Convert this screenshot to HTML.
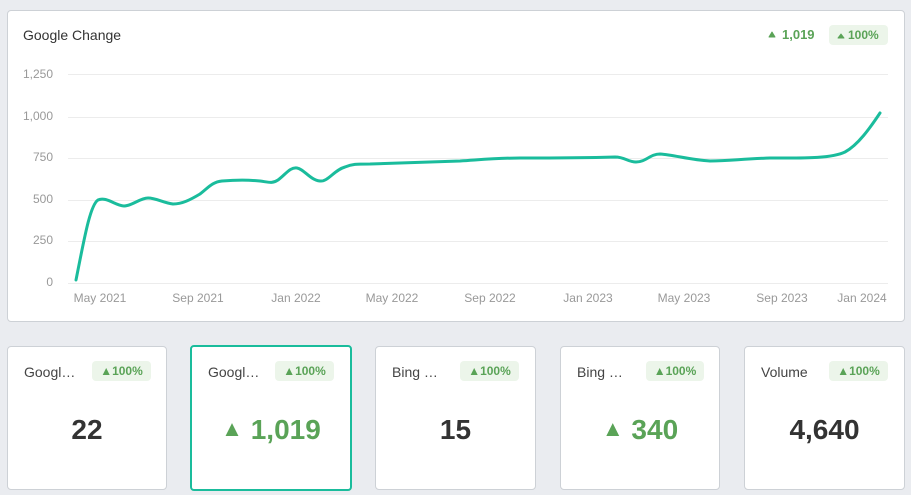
<!DOCTYPE html>
<html><head><meta charset="utf-8"><style>
body{margin:0;width:911px;height:495px;background:#eaecf0;font-family:"Liberation Sans",sans-serif;position:relative;overflow:hidden}
.card{position:absolute;background:#fff;border:1px solid #cdd1d6;border-radius:4px;box-sizing:border-box}
.t{position:absolute;font-size:14px;color:#444}
.badge{position:absolute;background:#ecf5ea;color:#5aa357;font-weight:bold;font-size:12px;border-radius:4px;height:20px;line-height:20px;text-align:center}
.big{position:absolute;left:0;right:0;text-align:center;font-size:28px;font-weight:bold;color:#333}
.g{color:#5aa357}
.ax{font-size:12px;fill:#999}
</style></head><body>
<div class="card" style="left:7px;top:10px;width:898px;height:312px"></div>
<svg style="position:absolute;left:0;top:0" width="911" height="330">
<text x="23" y="40" font-size="14" fill="#333" font-family="Liberation Sans">Google Change</text>
<path d="M769 37 L772 32 L775 37Z" fill="#5aa357" stroke="#5aa357" stroke-linejoin="round"/>
<text x="782" y="39" font-size="13" font-weight="bold" fill="#5aa357" font-family="Liberation Sans">1,019</text>
<rect x="829" y="25" width="59" height="20" rx="4" fill="#ecf5ea"/>
<path d="M838 38 L841 34 L844 38Z" fill="#5aa357" stroke="#5aa357" stroke-linejoin="round"/>
<text x="848" y="39" font-size="12" font-weight="bold" fill="#5aa357" font-family="Liberation Sans">100%</text>
<g stroke="#ececec" stroke-width="1">
<line x1="68" x2="888" y1="74.5" y2="74.5"/><line x1="68" x2="888" y1="117.5" y2="117.5"/>
<line x1="68" x2="888" y1="158.5" y2="158.5"/><line x1="68" x2="888" y1="200.5" y2="200.5"/>
<line x1="68" x2="888" y1="241.5" y2="241.5"/><line x1="68" x2="888" y1="283.5" y2="283.5"/>
</g>
<g class="ax" font-family="Liberation Sans" text-anchor="end">
<text x="53" y="78">1,250</text><text x="53" y="120">1,000</text><text x="53" y="161">750</text>
<text x="53" y="203">500</text><text x="53" y="244">250</text><text x="53" y="286">0</text>
</g>
<g class="ax" font-family="Liberation Sans" text-anchor="middle">
<text x="100" y="302">May 2021</text><text x="198" y="302">Sep 2021</text><text x="296" y="302">Jan 2022</text>
<text x="392" y="302">May 2022</text><text x="490" y="302">Sep 2022</text><text x="588" y="302">Jan 2023</text>
<text x="684" y="302">May 2023</text><text x="782" y="302">Sep 2023</text><text x="862" y="302">Jan 2024</text>
</g>
<path fill="none" stroke="#1abc9c" stroke-width="3" stroke-linecap="round" stroke-linejoin="round"
d="M76 280 C84 240,90 205,98 200 C106 196,116 206,124 206 C132 206,140 198,148 198 C156 198,164 203,173 204 C182 204,190 200,200 194 C208 188,212 182,222 181 C235 180,250 180,260 181 C268 182,272 184,278 180 C286 174,290 167,297 168 C304 169,310 180,320 181 C328 182,334 170,345 167 C352 164,356 164,370 164 C400 163,430 162,460 161 C490 159,500 158,520 158 C540 158,580 158,615 157 C625 157,628 162,636 162 C646 162,650 154,660 154 C675 155,690 160,710 161 C730 161,740 159,770 158 C800 158,830 159,845 152 C858 145,870 128,880 113"/>
</svg>

<div class="card" style="left:7px;top:346px;width:160px;height:144px">
<div class="t" style="left:16px;top:17px">Googl…</div>
<div class="badge" style="left:84px;top:14px;width:59px">▲100%</div>
<div class="big" style="top:67px">22</div></div>

<div class="card" style="left:190px;top:345px;width:162px;height:146px;border:2px solid #1abc9c">
<div class="t" style="left:16px;top:17px">Googl…</div>
<div class="badge" style="left:83px;top:14px;width:59px">▲100%</div>
<div class="big g" style="top:67px"><span style="font-size:22px;vertical-align:3px">▲</span> 1,019</div></div>

<div class="card" style="left:375px;top:346px;width:161px;height:144px">
<div class="t" style="left:16px;top:17px">Bing …</div>
<div class="badge" style="left:84px;top:14px;width:59px">▲100%</div>
<div class="big" style="top:67px">15</div></div>

<div class="card" style="left:560px;top:346px;width:160px;height:144px">
<div class="t" style="left:16px;top:17px">Bing …</div>
<div class="badge" style="left:85px;top:14px;width:58px">▲100%</div>
<div class="big g" style="top:67px"><span style="font-size:22px;vertical-align:3px">▲</span> 340</div></div>

<div class="card" style="left:744px;top:346px;width:161px;height:144px">
<div class="t" style="left:16px;top:17px">Volume</div>
<div class="badge" style="left:84px;top:14px;width:59px">▲100%</div>
<div class="big" style="top:67px">4,640</div></div>
</body></html>
